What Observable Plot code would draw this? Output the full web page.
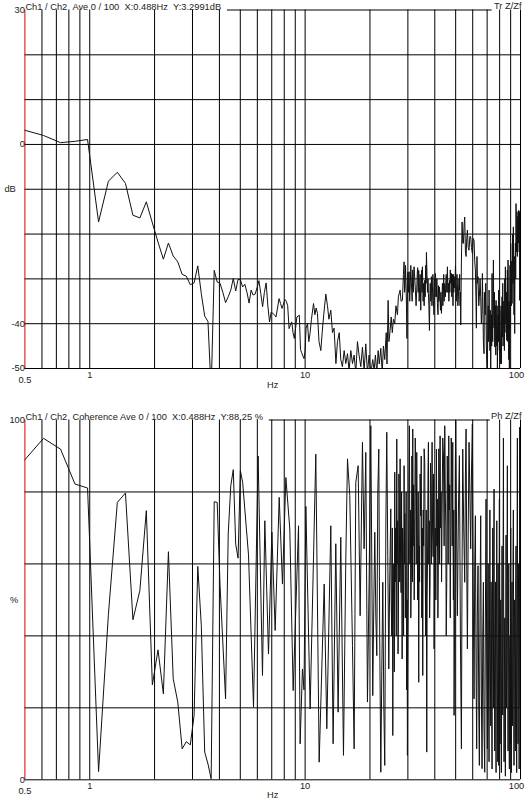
<!DOCTYPE html>
<html><head><meta charset="utf-8">
<script src="https://cdn.jsdelivr.net/npm/d3@7"></script>
<script src="https://cdn.jsdelivr.net/npm/@observablehq/plot@0.6"></script>
<style>
body{margin:0;background:#fff;}
#wrap{position:relative;width:531px;height:800px;overflow:hidden;}
#wrap > div{position:absolute;left:0;width:531px;height:400px;}
</style></head><body><div id="wrap"><div id="p1" style="top:0"></div><div id="p2" style="top:400px"></div></div>
<script>
// ---- frequency grid / tick labels ----
const xGridFreqs = [0.6,0.7,0.8,0.9,1,2,3,4,5,6,7,8,9,10,20,30,40,50,60,70,80,90,100];
const xTickFreqs = [0.5, 1, 10, 100];
const xTickLabels = ["0.5", "1", "10", "100"];

// ---- top panel: Tr Z/Zf (dB) ----
const topTitle = "Ch1 / Ch2\u00a0\u00a0Ave 0 / 100\u00a0\u00a0X:0.488Hz\u00a0\u00a0Y:3.2991dB";
const topTag = "Tr Z/Zf";
const topGridDb = [-50,-40,-30,-20,-10,0,10,20];
const topTickDb = [30, 0, -40, -50];
const topTickLabels = ["30", "0", "-40", "-50"];
const topUnit = "dB";
const topUnitDb = -10;
// [frequency Hz, dB]
const topLow = [
[0.488,3.3],[0.610,2.0],[0.732,0.4],[0.854,0.7],[0.977,1.1],[1.099,-17.3],[1.221,-8.2],[1.343,-6.2],[1.465,-8.7],[1.587,-15.8],
[1.709,-16.4],[1.831,-12.8],[1.953,-17.5],[2.075,-21.8],[2.197,-25.6],[2.319,-22.0],[2.441,-24.9],[2.563,-26.2],[2.686,-29.0],[2.808,-29.4],
[2.930,-31.3],[3.052,-30.9],[3.174,-27.1],[3.296,-33.3],[3.418,-38.3],[3.540,-39.5],[3.662,-55],[3.784,-28.1],[3.906,-30.7],[4.028,-31.0],
[4.150,-33.0],[4.272,-35.3],[4.395,-34.0],[4.517,-32.5],[4.639,-29.9],[4.761,-32.7],[4.883,-30.1],[5.005,-30.2],[5.127,-31.8],[5.249,-31.2],
[5.371,-33.0],[5.493,-35.4],[5.615,-32.5],[5.737,-33.6],[5.859,-33.4],[5.981,-32.0],[6.104,-30.4],[6.226,-33.3],[6.348,-36.2],[6.470,-33.0],
[6.592,-30.9],[6.714,-36.0],[6.836,-39.6],[6.958,-37.4],[7.080,-37.7],[7.202,-38.0],[7.324,-38.5],[7.446,-36.5],[7.568,-34.4],[7.690,-35.5],
[7.812,-36.6],[7.935,-35.6],[8.057,-34.6],[8.179,-35.0],[8.301,-36.0],[8.423,-41.1],[8.545,-40.3],[8.667,-39.6],[8.789,-42.0],[8.911,-43.3],
[9.033,-41.0],[9.155,-38.5],[9.277,-38.3],[9.399,-38.1],[9.521,-45.8],[9.644,-46.5],[9.766,-47.2],[9.888,-47.8]
];
const topHigh = [
[10.0,-46],[10.1,-41],[10.26,-40],[10.4,-44],[10.55,-42],[10.7,-39],[10.94,-35.5],[11.1,-38],[11.25,-36.5],[11.41,-37.7],
[11.6,-44],[11.83,-46],[12.0,-42],[12.2,-38],[12.48,-33.4],[12.7,-36],[12.9,-39],[13.16,-37],[13.4,-42],[13.63,-41],
[13.9,-48.9],[14.13,-44],[14.4,-42],[14.64,-48],[14.9,-49.6],[15.18,-46],[15.45,-48.9],[15.73,-46.7],[16.0,-50.5],[16.3,-46],
[16.6,-48.9],[16.89,-47],[17.19,-51],[17.5,-44],[17.8,-47],[18.14,-49.6],[18.46,-45.2],[18.79,-50.5],[19.13,-44.5],[19.47,-51],
[19.82,-47],[20.18,-51],[20.61,-48],[20.91,-50.5],[21.2,-47],[21.52,-51],[21.83,-46],[22.1,-49],[22.46,-45.5],[22.8,-51],
[23.1,-45],[23.43,-48],[23.8,-42],[24.0,-49],[24.29,-34.8],[24.5,-44],[24.81,-41.5],[25.1,-38.5],[25.4,-42],[25.7,-39],
[26.07,-40],[26.4,-36],[26.83,-38],[27.11,-34],[27.61,-32.5],[27.9,-35],[28.3,-34.8],[28.6,-29],
[28.81,-26.2],[28.95,-33],[29.1,-31.8],[29.25,-27],[29.43,-31.8],[29.55,-36],[29.7,-43.3],[29.85,-33],[30.0,-28.5],[30.2,-33],
[30.39,-28.4],[30.6,-35],[30.8,-31],[30.95,-27],[31.15,-30.9],[31.4,-35],[31.6,-28],[31.8,-33],[32.05,-27.3],[32.3,-30],
[32.5,-32.5],[32.75,-36],[32.98,-32.5],[33.15,-29],[33.3,-27.5],[33.5,-33],[33.69,-28.1],[33.85,-35],[34.0,-32],[34.2,-29],
[34.42,-37],[34.6,-31],[34.8,-28],[34.9,-33],[35.04,-27.3],[35.3,-35],[35.5,-31],[35.7,-36],[35.93,-30.3],[36.1,-34],
[36.3,-27],[36.45,-31],[36.58,-24.1],[36.8,-29],[37.0,-33],[37.2,-30],[37.37,-33.3],[37.55,-36],[37.77,-41.5],[37.95,-34],
[38.1,-31],[38.35,-35],[38.59,-29.5],[38.8,-36],[39.0,-33],[39.2,-29],[39.42,-34.8],[39.65,-38],[39.9,-30],[40.1,-34],
[40.27,-28.8],[40.5,-31],[40.7,-34],[40.9,-30],[41.14,-35.5],[41.4,-38],[41.6,-31.5],[41.8,-35],[42.04,-31.8],[42.25,-34],
[42.5,-37],[42.7,-33],[42.95,-37.7],[43.2,-34],[43.4,-31],[43.6,-36],[43.87,-32.5],[44.0,-29],[44.2,-35],[44.5,-31],
[44.82,-34],[45.0,-31],[45.2,-29],[45.5,-33],[45.78,-27.3],[46.0,-33],[46.3,-31],[46.5,-35],[46.77,-30.3],[47.0,-33],
[47.2,-28],[47.5,-31],[47.78,-28.8],[47.95,-34],[48.1,-32],[48.3,-29],[48.46,-32.5],[48.6,-36],[48.8,-29],[49.0,-33],
[49.16,-29.5],[49.4,-32],[49.68,-30],[49.9,-27],[50.1,-30.8],[50.3,-35],[50.5,-33],[50.7,-29],[50.93,-31],[51.2,-36],
[51.5,-34],[51.8,-30],[52.04,-32.5],[52.2,-29],[52.4,-36],[52.6,-33],[52.79,-40.3],
[53.17,-26],[53.55,-17.3],[53.93,-22],
[54.32,-22.1],[54.7,-18],[55.09,-16.2],[55.5,-24],[55.88,-25],[56.3,-21],[56.67,-19.1],[57.2,-23],[57.69,-23.6],[58.2,-20.5],
[58.72,-20.6],[59.2,-23],[59.78,-24.3],[60.3,-21],[60.86,-21.4],[61.3,-26],[61.73,-28],[62.1,-34],[62.39,-41],[62.8,-25],
[63.1,-31],[63.51,-29.5],[64.0,-36],[64.42,-34],[64.9,-30],[65.35,-34],[65.8,-40],[66.29,-37],[66.53,-28.8],[67.0,-38],
[67.25,-44],[67.72,-46.7],[68.0,-33],[68.2,-35],[68.6,-38],[68.94,-31],[69.4,-45],[69.8,-49],[70.18,-51],[70.5,-40],
[70.8,-36],[71.1,-44],[71.45,-32.5],[71.8,-40],[72.1,-46],[72.4,-37],[72.73,-51],[73.0,-42],[73.2,-38],[73.5,-45],
[73.78,-28.8],[74.0,-37],[74.3,-44],[74.6,-35],[74.84,-25.8],[75.1,-38],[75.4,-41],[75.7,-33],[75.92,-45.2],[76.2,-39],
[76.5,-36],[76.8,-47],[77.01,-34.8],[77.3,-42],[77.6,-45],[77.9,-36],[78.11,-51],[78.4,-40],[78.7,-38],[79.0,-44],
[79.23,-32.5],[79.5,-41],[79.8,-46],[80.1,-37],[80.37,-41.5],[80.7,-45],[81.0,-49],[81.3,-36],[81.52,-48.9],[81.8,-40],
[82.1,-34],[82.4,-43],[82.69,-31],[83.0,-45],[83.3,-41],[83.6,-35],[83.88,-38.5],[84.2,-46],[84.5,-30],[84.8,-40],
[85.08,-27.3],[85.4,-37],[85.7,-42],[86.0,-33],[86.3,-43.7],[86.6,-35],[86.9,-28],[87.2,-44],[87.53,-25.8],[87.9,-39],
[88.2,-48],[88.5,-35],[88.79,-51],[89.1,-38],[89.4,-27],[89.7,-41],[90.06,-22.1],[90.4,-33],[90.7,-36],[91.0,-26],
[91.35,-35.5],[91.7,-29],[92.0,-20],[92.3,-31],[92.66,-18.4],[93.0,-30],[93.3,-38],[93.6,-25],[93.99,-42.2],[94.3,-28],
[94.7,-22],[95.0,-30],[95.34,-13.2],[95.7,-24],[96.0,-20],[96.3,-15],[96.71,-25],[97.0,-17],[97.4,-16],[97.7,-22],
[98.08,-14.7],[98.3,-19],[98.6,-24],[98.9,-15],[99.15,-34.8],[99.4,-20],[99.7,-18],[100.0,-14],[100.3,-18.4]
];

// ---- bottom panel: coherence (%) ----
const botTitle = "Ch1 / Ch2\u00a0\u00a0Coherence Ave 0 / 100\u00a0\u00a0X:0.488Hz\u00a0\u00a0Y:88.25 %";
const botTag = "Ph Z/Zf";
const botGridPct = [0,20,40,60,80];
const botTickPct = [100, 0];
const botTickLabels = ["100", "0"];
const botUnit = "%";
const botUnitPct = 50;
// [frequency Hz, coherence %]
const cohLow = [
[0.488,88.25],[0.610,94.9],[0.732,91.9],[0.854,82.2],[0.977,81.1],[1.099,2.3],[1.221,46],[1.343,77.1],[1.465,79.7],[1.587,44.5],
[1.709,52.6],[1.831,74.8],[1.953,26.4],[2.075,36.1],[2.197,23.9],[2.319,63.4],[2.441,28.1],[2.563,21.6],[2.686,8.6],[2.808,10.6],
[2.930,9.7],[3.052,17.9],[3.174,59.3],[3.296,42.9],[3.418,7.7],[3.540,4.4],[3.662,0.3],[3.784,77.3],[3.906,77.1],[4.028,54],
[4.150,38],[4.272,22.5],[4.395,68.3],[4.517,81.7],[4.639,86.2],[4.761,65.5],[4.883,61.6],[5.005,85.9],[5.127,82.7],
[5.46,62.5],[5.76,20.2],[6.05,90],[6.34,29],[6.50,72],[6.76,35],[7.01,68.8],[7.26,41.5],[7.58,78.5],[7.85,54.4],
[8.14,84],[8.49,69.7],[8.80,24.8],[9.32,70.6],[9.48,10],[9.72,30.8],[9.88,25]
];
const cohHigh = [
[10.08,76],[10.55,19.7],[11.21,90.5],[11.62,4.9],[12.26,54.4],[12.61,14.2],[13.16,70.6],[13.49,10],[13.88,65.6],[14.23,18.8],
[14.64,67.4],[15.07,6.8],[15.45,61.4],[15.73,89.2],[16.12,79],[16.59,37.3],[16.89,8.6],[17.19,82.7],[17.63,87.3],[18.01,45.6],
[18.46,93.8],[18.79,64.2],[19.13,91],[19.47,21.6],[19.82,54.9],
[20.18,98.4],[20.4,60],[20.61,23.4],[20.85,50],[21.06,68.8],[21.3,45],[21.52,34.5],[21.75,80],[21.98,91.9],[22.2,40],
[22.46,2.1],[22.7,30],[22.94,54.9],[23.2,20],[23.43,4],[23.7,70],[23.94,96.6],[24.2,62],[24.46,30.8],[24.7,55],
[24.99,75.3],[25.1,50],[25.25,40],[25.4,70],[25.53,12.3],[25.65,45],[25.8,60],[25.95,30],[26.07,85.5],[26.2,55],
[26.35,70],[26.5,40],[26.64,94.7],[26.75,60],[26.9,72],[27.0,35],[27.11,43.8],[27.25,85],[27.35,78],[27.5,55],
[27.61,89.2],[27.75,60],[27.9,52],[28.05,80],[28.21,33.6],[28.35,70],[28.5,65],[28.65,40],[28.81,87.3],[28.95,60],
[29.05,74],[29.2,45],[29.33,59.5],[29.45,80],[29.6,25],[29.75,50],[29.85,6.8],[30.0,40],[30.15,55],[30.3,80],
[30.49,98.4],[30.65,60],[30.8,75],[30.95,45],[31.15,58.6],[31.3,90],[31.4,85],[31.5,55],[31.6,97.5],[31.75,65],
[31.9,82],[32.1,50],[32.28,73.4],[32.45,95],[32.6,88],[32.8,60],[32.98,91],[33.15,70],[33.3,50],[33.5,80],
[33.69,27.1],[33.85,65],[34.0,55],[34.2,85],[34.42,73.4],[34.6,90],[34.8,45],[35.0,70],[35.17,29],[35.35,75],
[35.5,65],[35.7,92],[35.93,88.2],[36.1,60],[36.3,40],[36.5,75],[36.71,7.7],[36.85,50],[37.0,60],[37.2,85],
[37.37,93.8],[37.5,60],[37.7,72],[37.85,45],[38.04,54.9],[38.2,88],[38.4,80],[38.6,60],[38.86,93.8],[39.05,70],
[39.3,62],[39.5,85],[39.7,36.4],[39.95,60],[40.2,70],[40.45,50],[40.71,91.9],[40.9,65],[41.1,78],[41.35,45],
[41.59,64.2],[41.75,92],[41.9,85],[42.1,60],[42.34,95.6],[42.55,70],[42.8,80],[43.0,55],[43.25,73.4],[43.55,95],
[43.9,90],[44.2,65],[44.5,98.4],[44.75,80],[45.0,70],[45.2,40],[45.46,54.9],[45.7,90],[45.9,80],[46.15,60],
[46.44,95.6],[46.65,75],[46.9,82],[47.2,45],[47.44,68.8],[47.7,95],[47.9,85],[48.2,65],[48.46,93.8],[48.6,70],
[48.8,50],[49.0,75],[49.16,17.9],[49.4,40],[49.6,60],[49.8,85],[50.04,99.8],
[50.5,70],
[50.93,45.6],[51.5,75],[52.04,90.1],[52.6,40],[53.17,8.6],[53.5,55],[53.93,91.9],[54.5,70],[55.09,54.9],[55.5,85],
[55.88,97.5],[56.3,60],[56.67,36.4],[57.2,70],[57.69,93.8],[58.2,80],[58.72,64.2],[59.2,85],[59.78,98.9],[60.3,55],
[60.86,22.5],[61.3,60],[61.73,73.4],[62.2,30],[62.61,8.6],[63.0,45],[63.51,59.5],[64.0,20],[64.42,4],[64.9,50],
[65.35,73.4],[65.8,25],[66.29,3.1],[66.8,40],[67.25,54.9],[67.7,15],[68.21,2.1],[68.7,45],[69.18,78],[69.7,30],
[70.18,8.6],[70.5,40],[70.8,60],[71.1,20],[71.45,5],[71.8,45],[72.1,75],[72.4,35],[72.73,15],[73.0,55],
[73.2,50],[73.5,20],[73.78,3],[74.0,40],[74.3,70],[74.6,35],[74.84,20],[75.1,60],[75.38,80.8],[75.6,40],
[75.92,8],[76.2,30],[76.5,55],[76.8,20],[77.01,2],[77.3,45],[77.6,72],[77.9,40],[78.11,25],[78.4,5],
[78.7,60],[79.0,30],[79.23,4],[79.5,50],[79.8,78],[80.1,35],[80.37,10],[80.7,40],[81.0,50],[81.3,15],
[81.52,2],[81.8,35],[82.1,65],[82.4,30],[82.69,18],[83.0,55],[83.3,95],[83.6,40],[83.88,5],[84.2,30],
[84.5,45],[84.8,12],[85.08,1],[85.4,40],[85.7,68],[86.0,20],[86.3,30],[86.6,60],[86.9,87.3],[87.2,35],
[87.53,8],[87.9,40],[88.2,60],[88.5,15],[88.79,3],[89.1,35],[89.4,40],[89.7,10],[90.06,70],[90.4,30],
[90.7,2],[91.0,45],[91.35,55],[91.7,20],[92.0,15],[92.3,60],[92.66,75],[93.0,25],[93.3,4],[93.6,45],
[93.99,50],[94.3,12],[94.7,8],[95.0,55],[95.34,65],[95.7,25],[96.0,2],[96.3,50],[96.71,95],[97.0,40],
[97.4,10],[97.7,45],[98.08,60],[98.3,20],[98.6,3],[98.9,55],[99.15,98],[99.4,40],[99.7,20],[100.0,60],[100.3,55]
];

// ---- drawing ----
const FONT = '"Liberation Sans", Arial, Helvetica, sans-serif';
const xTicks = xTickFreqs.map((f, i) => ({f, t: xTickLabels[i]}));

function panel(o) {
  const yTicks = o.tickVals.map((v, i) => ({v, t: o.tickLabels[i]}));
  return Plot.plot({
    width: 531, height: 400,
    marginLeft: 24.4, marginRight: 11, marginTop: o.mt, marginBottom: o.mb,
    style: {fontFamily: FONT, fontSize: "9.3px", color: "#222", background: "#fff", overflow: "visible"},
    x: {type: "log", domain: [0.5, 100], axis: null},
    y: {domain: o.yDomain, axis: null},
    marks: [
      Plot.ruleY(o.grid, {stroke: "#000", strokeWidth: 1}),
      Plot.ruleY([o.yDomain[1]], {x1: o.frame[0], x2: o.frame[1], stroke: "#000", strokeWidth: 1}),
      Plot.ruleX(xGridFreqs, {stroke: "#000", strokeWidth: 1}),
      Plot.line(o.data, {x: d => d[0], y: d => d[1], stroke: "#111", strokeWidth: 1, clip: true}),
      Plot.ruleX([0.5], {stroke: "#e00000", strokeWidth: 1}),
      Plot.text(yTicks, {y: d => d.v, text: d => d.t, frameAnchor: "left", textAnchor: "end", lineAnchor: "middle", dx: 0, fill: "#222"}),
      Plot.text([o.unit], {y: () => o.unitAt, text: d => d, frameAnchor: "left", textAnchor: "start", lineAnchor: "middle", dx: o.unitDx, fill: "#222"}),
      Plot.text(xTicks.filter(d => d.f === 0.5), {x: d => d.f, text: d => d.t, frameAnchor: "bottom", lineAnchor: "middle", dy: o.lowDy, fill: "#222"}),
      Plot.text(xTicks.filter(d => d.f > 0.5 && d.f < 100), {x: d => d.f, text: d => d.t, frameAnchor: "bottom", lineAnchor: "middle", dy: o.tickDy, fill: "#222"}),
      Plot.text(xTicks.filter(d => d.f === 100), {x: d => d.f, text: d => d.t, frameAnchor: "bottom", lineAnchor: "middle", dy: o.tickDy, dx: -4, fill: "#222"}),
      Plot.text(["Hz"], {text: d => d, frameAnchor: "bottom", lineAnchor: "middle", dy: o.hzDy, fill: "#222"}),
      Plot.text([o.title], {text: d => d, frameAnchor: "top-left", textAnchor: "start", lineAnchor: "bottom", dx: 0.5, dy: -0.5, fill: "#222"}),
      Plot.text([o.tag], {text: d => d, frameAnchor: "top-right", textAnchor: "end", lineAnchor: "bottom", dx: 1, dy: -1.5, fill: "#222"})
    ]
  });
}

document.getElementById("p1").append(panel({
  mt: 9.5, mb: 32, yDomain: [-50, 30], grid: topGridDb, frame: [4.36, 73.9],
  data: topLow.concat(topHigh), tickVals: topTickDb, tickLabels: topTickLabels,
  unit: topUnit, unitAt: topUnitDb, unitDx: -20.5, lowDy: 12, tickDy: 6.8, hzDy: 16.5,
  title: topTitle, tag: topTag
}));
document.getElementById("p2").append(panel({
  mt: 19.5, mb: 20.7, yDomain: [0, 100], grid: botGridPct, frame: [6.82, 72.4],
  data: cohLow.concat(cohHigh), tickVals: botTickPct, tickLabels: botTickLabels,
  unit: botUnit, unitAt: botUnitPct, unitDx: -15, lowDy: 11, tickDy: 6, hzDy: 15.5,
  title: botTitle, tag: botTag
}));
</script>
</body></html>
